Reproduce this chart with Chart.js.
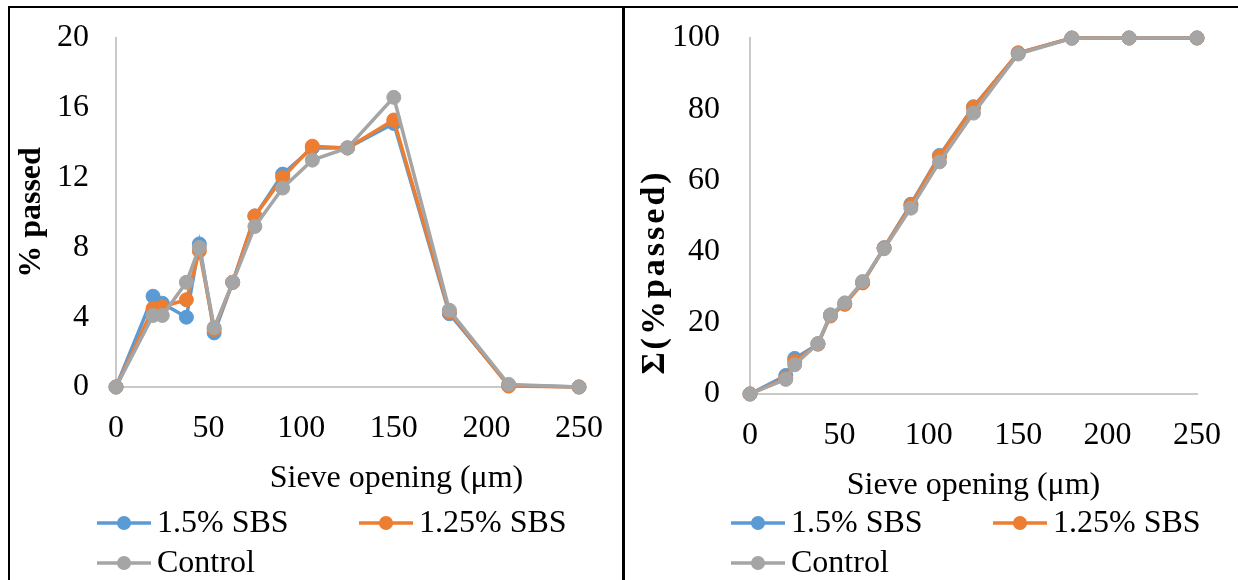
<!DOCTYPE html>
<html>
<head>
<meta charset="utf-8">
<title>Sieve analysis</title>
<script src="https://cdn.jsdelivr.net/npm/chart.js@4.4.1/dist/chart.umd.min.js"></script>
<style>
  html, body { margin: 0; padding: 0; background: #fff; }
  body { width: 1238px; height: 580px; position: relative; overflow: hidden; }
  .rule { position: absolute; background: #000; }
  .panel { position: absolute; top: 9px; height: 571px; }
  .panel canvas { display: block; }
</style>
</head>
<body>
<div class="rule" style="left:8px;top:6px;width:1230px;height:2px"></div>
<div class="rule" style="left:8px;top:6px;width:2px;height:574px"></div>
<div class="rule" style="left:622px;top:6px;width:3px;height:574px"></div>
<div class="panel" style="left:10px;width:612px"><canvas id="passed" width="612" height="571"></canvas></div>
<div class="panel" style="left:625px;width:613px"><canvas id="cumulative" width="613" height="571"></canvas></div>
<script>
// sieve openings (µm)
const sieveSizes = [0, 20, 25, 38, 45, 53, 63, 75, 90, 106, 125, 150, 180, 212, 250];

// % passed per sieve
const passed15 = [0, 5.2, 4.8, 4.0, 8.2, 3.1, 6.0, 9.8, 12.2, 13.7, 13.7, 15.1, 4.2, 0.1, 0];
const passed125 = [0, 4.5, 4.6, 5.0, 7.8, 3.3, 6.0, 9.8, 12.0, 13.8, 13.7, 15.3, 4.3, 0.05, 0];
const passedControl = [0, 4.1, 4.1, 6.0, 8.0, 3.4, 6.0, 9.2, 11.4, 13.0, 13.7, 16.6, 4.4, 0.15, 0];

// cumulative % passed
const cumulative15 = [0, 5.2, 10.0, 14.0, 22.2, 25.3, 31.3, 41.1, 53.3, 67.0, 80.7, 95.8, 100, 100, 100];
const cumulative125 = [0, 4.5, 9.1, 14.1, 21.9, 25.2, 31.2, 41.0, 53.0, 66.8, 80.5, 95.8, 100, 100, 100];
const cumulativeControl = [0, 4.1, 8.2, 14.2, 22.2, 25.6, 31.6, 40.8, 52.2, 65.2, 78.9, 95.5, 99.9, 100, 100];

const seriesNames = ['1.5% SBS', '1.25% SBS', 'Control'];
const xTicks = [0, 50, 100, 150, 200, 250];
const passedTicks = [0, 4, 8, 12, 16, 20];
const cumulativeTicks = [0, 20, 40, 60, 80, 100];

const COLORS = ['#5B9BD5', '#ED7D31', '#A5A5A5'];
const FONT = "'Liberation Serif', 'Times New Roman', serif";
const FONT_SIZE = 32;

function toPoints(values) {
    return values.map((y, i) => ({ x: sieveSizes[i], y }));
}

function makeDatasets(seriesList) {
    return seriesList.map((values, i) => ({
        label: seriesNames[i],
        data: toPoints(values),
        borderColor: COLORS[i],
        backgroundColor: COLORS[i],
        pointBackgroundColor: COLORS[i],
        pointBorderColor: COLORS[i],
        pointBorderWidth: 1,
        pointRadius: 7,
        borderWidth: 3.5,
        tension: 0,
        clip: false,
        order: seriesList.length - i, // last series on top, as in Excel
    }));
}

// axis titles + Excel-style legend, drawn from the chart's own datasets
const panelText = {
    id: 'panelText',
    afterDraw(chart, args, opts) {
        const { ctx, chartArea } = chart;
        ctx.save();
        ctx.fillStyle = '#000';
        ctx.textBaseline = 'middle';

        ctx.font = `${FONT_SIZE}px ${FONT}`;
        ctx.textAlign = 'center';
        const midX = (chartArea.left + chartArea.right) / 2;
        ctx.fillText(opts.xTitle, midX + opts.xTitleShift, chartArea.bottom + 92);

        ctx.save();
        ctx.translate(opts.yTitleX, (chartArea.top + chartArea.bottom) / 2 + opts.yTitleShift);
        ctx.rotate(-Math.PI / 2);
        ctx.font = `bold ${opts.yTitleSize}px ${FONT}`;
        if (opts.yTitleSpacing) {
            ctx.letterSpacing = opts.yTitleSpacing;
        }
        ctx.fillText(opts.yTitle, 0, 0);
        ctx.restore();

        // legend: two columns, third item wraps to second row
        ctx.font = `${FONT_SIZE}px ${FONT}`;
        ctx.textAlign = 'left';
        chart.data.datasets.forEach((ds, i) => {
            const col = i % 2;
            const row = Math.floor(i / 2);
            const x0 = chartArea.left - 19 + col * 262;
            const y = chart.height - 57 + row * 40;
            ctx.strokeStyle = ds.borderColor;
            ctx.lineWidth = 3.5;
            ctx.beginPath();
            ctx.moveTo(x0, y);
            ctx.lineTo(x0 + 54, y);
            ctx.stroke();
            ctx.fillStyle = ds.backgroundColor;
            ctx.beginPath();
            ctx.arc(x0 + 27, y, 7, 0, Math.PI * 2);
            ctx.fill();
            ctx.fillStyle = '#000';
            ctx.fillText(ds.label, x0 + 60, y + 1);
        });
        ctx.restore();
    },
};

function makeChart(canvas, seriesList, yTicks, layout, text) {
    return new Chart(canvas, {
        type: 'line',
        data: { datasets: makeDatasets(seriesList) },
        plugins: [panelText],
        options: {
            responsive: false,
            animation: false,
            events: [],
            layout: { padding: { top: 29, left: 0, right: layout.right, bottom: layout.bottom } },
            scales: {
                x: {
                    type: 'linear',
                    min: xTicks[0],
                    max: xTicks[xTicks.length - 1],
                    afterFit: (scale) => {
                        scale.height = 60;
                        scale.paddingLeft = 0;
                        scale.paddingRight = 0;
                    },
                    afterBuildTicks: (scale) => { scale.ticks = xTicks.map((v) => ({ value: v })); },
                    grid: { display: false, drawTicks: false },
                    border: { display: true, color: '#c9c9c9', width: 2 },
                    ticks: {
                        color: '#000',
                        padding: 26,
                        font: { family: FONT, size: FONT_SIZE, lineHeight: 1 },
                    },
                },
                y: {
                    min: yTicks[0],
                    max: yTicks[yTicks.length - 1],
                    afterFit: (scale) => {
                        scale.width = layout.yWidth;
                        scale.paddingTop = 0;
                        scale.paddingBottom = 0;
                    },
                    afterBuildTicks: (scale) => { scale.ticks = yTicks.map((v) => ({ value: v })); },
                    grid: { display: false, drawTicks: false },
                    border: { display: true, color: '#c9c9c9', width: 2 },
                    ticks: {
                        color: '#000',
                        padding: layout.tickGap,
                        font: { family: FONT, size: FONT_SIZE, lineHeight: 1 },
                    },
                },
            },
            plugins: {
                legend: { display: false },
                tooltip: { enabled: false },
                panelText: text,
            },
        },
    });
}

makeChart(
    document.getElementById('passed'),
    [passed15, passed125, passedControl],
    passedTicks,
    { right: 43, bottom: 133, yWidth: 106, tickGap: 27 },
    { xTitle: 'Sieve opening (μm)', xTitleShift: 49, yTitle: '% passed', yTitleSize: 32, yTitleX: 22, yTitleShift: 0 },
);

makeChart(
    document.getElementById('cumulative'),
    [cumulative15, cumulative125, cumulativeControl],
    cumulativeTicks,
    { right: 41, bottom: 126, yWidth: 125, tickGap: 30 },
    { xTitle: 'Sieve opening (μm)', xTitleShift: 0, yTitle: 'Σ(%passed)', yTitleSize: 34, yTitleX: 30, yTitleShift: 56, yTitleSpacing: '3px' },
);
</script>
</body>
</html>
